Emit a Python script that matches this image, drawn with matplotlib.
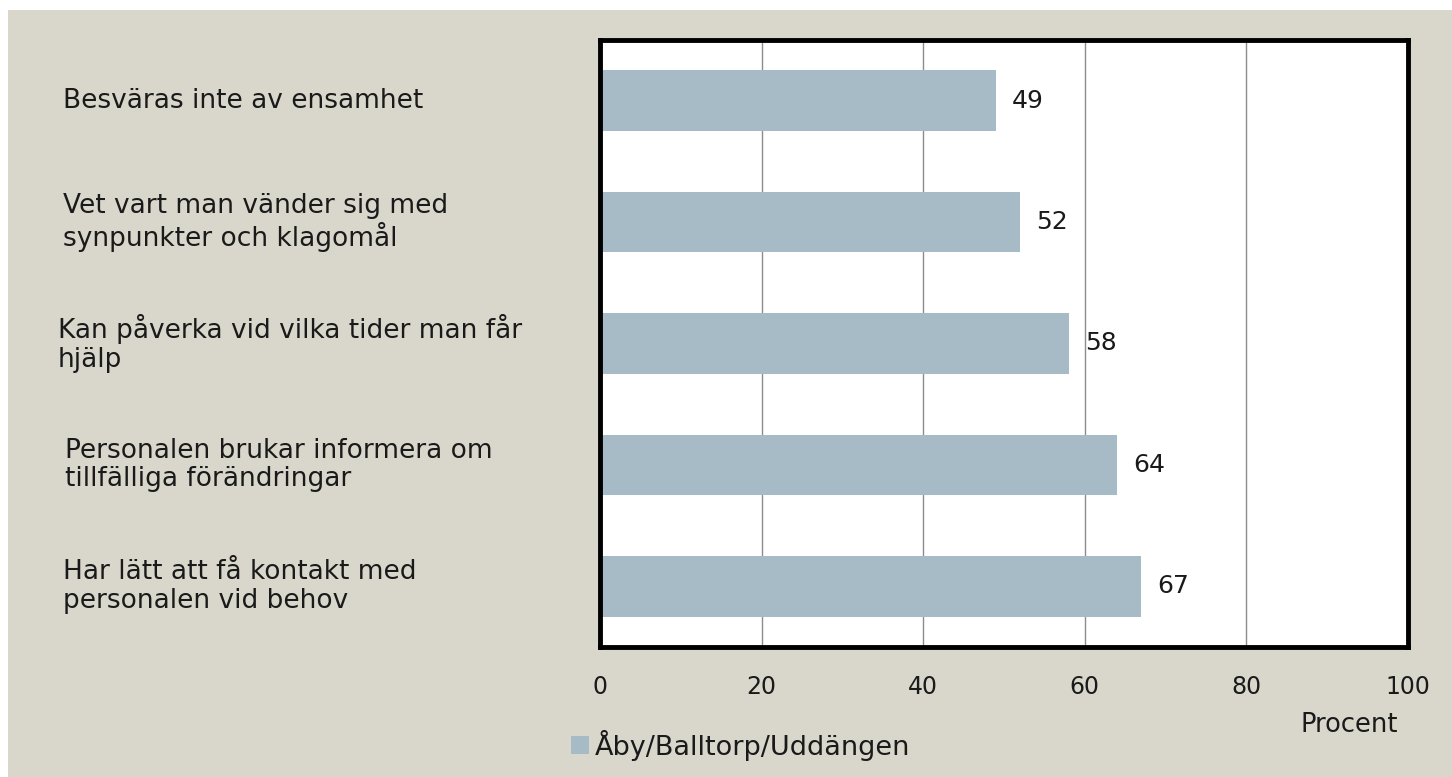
import matplotlib.pyplot as plt
from matplotlib.patches import Rectangle, Patch

# data, top to bottom as shown
labels = [
    "Besväras inte av ensamhet",
    "Vet vart man vänder sig med\nsynpunkter och klagomål",
    "Kan påverka vid vilka tider man får\nhjälp",
    "Personalen brukar informera om\ntillfälliga förändringar",
    "Har lätt att få kontakt med\npersonalen vid behov",
]
values = [49, 52, 58, 64, 67]
series_name = "Åby/Balltorp/Uddängen"
xticks = [0, 20, 40, 60, 80, 100]

W, H = 1452, 777
bg = "#D9D7CB"
bar_color = "#A6BBC6"
txt = "#1a1a1a"
plt.rcParams['font.family'] = ['DejaVu Sans']

fig = plt.figure(figsize=(W / 100, H / 100), dpi=100)
fig.patch.set_facecolor("white")
fig.patches.append(Rectangle((8 / W, 0), 1, 1 - 10 / H, transform=fig.transFigure,
                             facecolor=bg, edgecolor="none", zorder=-10))

ax = fig.add_axes([600 / W, 1 - 647 / H, (1408 - 600) / W, (647 - 40) / H])
ax.set_facecolor("white")
ypos = list(range(len(values)))
ax.barh(ypos, values, height=0.5, color=bar_color, zorder=2)
ax.set_ylim(len(values) - 0.5, -0.5)
ax.set_xlim(0, 100)
ax.set_xticks(xticks)
ax.set_xticklabels([str(t) for t in xticks], fontsize=17, color=txt)
ax.tick_params(axis="x", length=0, pad=20)
ax.set_yticks([])
ax.grid(axis="x", color="#8c8c8c", linewidth=1, zorder=1)
for s in ax.spines.values():
    s.set_linewidth(3.5)
    s.set_color("black")

for y, v in zip(ypos, values):
    ax.text(v + 2, y, str(v), va="center", ha="left", fontsize=18, color=txt)

xoffs = [63, 63, 58, 65, 63]
for y, lab, xo in zip(ypos, labels, xoffs):
    yc = 1 - 647 / H + (647 - 40) / H * (1 - (y + 0.5) / len(values))
    fig.text(xo / W, yc, lab, ha="left", va="center", fontsize=19,
             color=txt, linespacing=1.12)

fig.text(1349 / W, 1 - 725 / H, "Procent", ha="center", va="center",
         fontsize=18.5, color=txt)

fig.legend(handles=[Patch(facecolor=bar_color, label=series_name)],
           loc="center left", bbox_to_anchor=(547 / W, 1 - 745 / H),
           frameon=False, fontsize=19.5, handlelength=0.65, handleheight=0.65,
           handletextpad=0.2, labelcolor=txt)

fig.savefig("out.png", dpi=100, facecolor=fig.get_facecolor())
